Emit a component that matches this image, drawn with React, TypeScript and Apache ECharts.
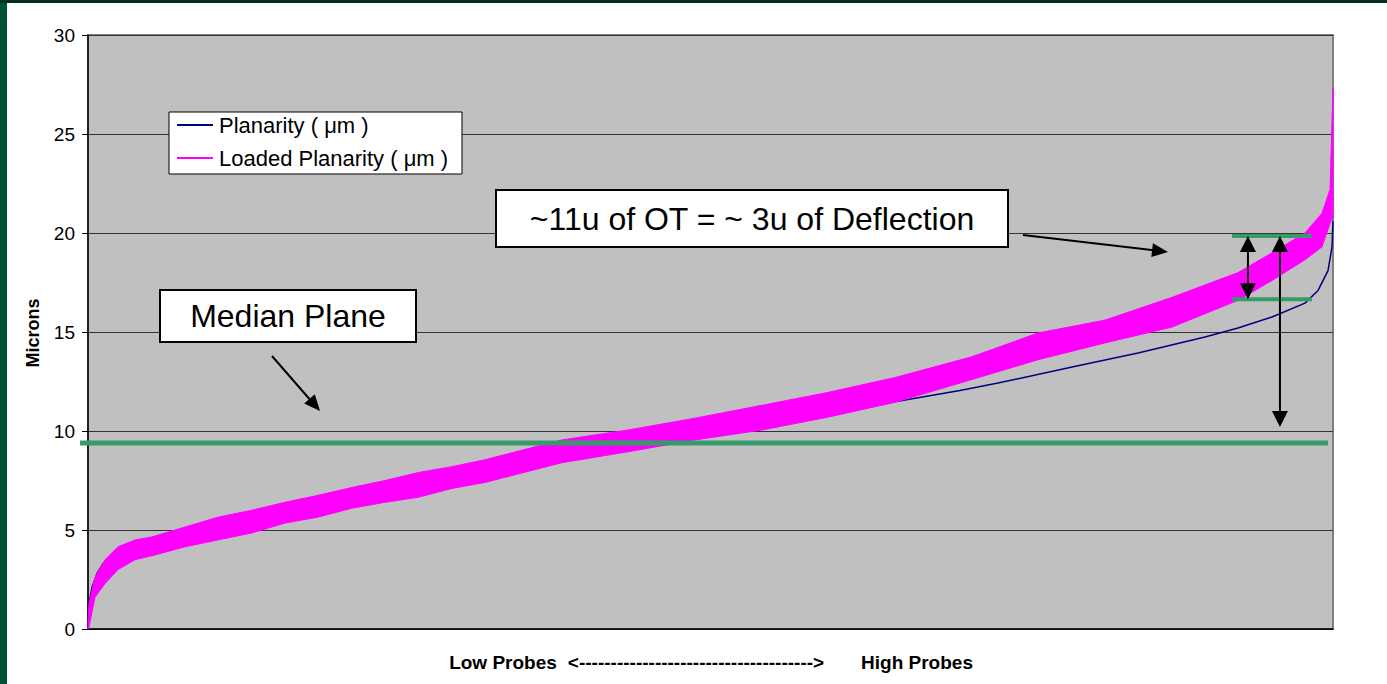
import React, { useEffect, useRef } from "react";
import * as echarts from "echarts";

// Probe position along the sorted probe list (% of probes, low -> high)
const planX = [0, 0.08, 0.32, 0.72, 1.2, 1.93, 2.97, 4.58, 6.43, 7.79, 10.44, 13.17, 15.82, 18.47, 21.2, 23.86, 26.5, 29.24, 31.89, 34.7, 37.27, 42.09, 46.91, 51.41, 56.39, 61.2, 65.62, 70.04, 73.09, 79.04, 84.34, 89.72, 92.37, 95.1, 97.75, 98.8, 99.6, 99.92, 100];
// Planarity (µm)
const planY = [0, 1.3, 2.1, 2.8, 3.3, 3.7, 4.15, 4.5, 4.85, 5.0, 5.45, 5.85, 6.25, 6.6, 6.95, 7.35, 7.7, 8.1, 8.45, 8.75, 9.0, 9.35, 9.7, 10.05, 10.55, 11.1, 11.57, 12.05, 12.42, 13.23, 13.94, 14.75, 15.2, 15.76, 16.46, 17.1, 18.1, 19.3, 20.6];

// Loaded planarity (µm): noisy band, read as lower / upper envelope
const loadX = [0, 0.08, 0.56, 1.37, 2.41, 3.78, 5.14, 7.79, 10.44, 13.17, 15.82, 18.47, 21.2, 23.86, 26.51, 29.24, 31.89, 38.07, 43.37, 48.76, 54.14, 59.44, 64.82, 71.0, 76.31, 81.69, 87.07, 92.37, 95.1, 97.75, 99.12, 99.76, 100];
const loadLow = [0, 0.1, 1.6, 2.3, 3.0, 3.5, 3.7, 4.15, 4.5, 4.85, 5.35, 5.65, 6.1, 6.4, 6.65, 7.1, 7.4, 8.4, 8.95, 9.55, 10.05, 10.7, 11.45, 12.6, 13.6, 14.45, 15.25, 16.6, 17.6, 18.65, 19.3, 20.5, 20.8];
const loadHigh = [0.4, 1.3, 2.6, 3.5, 4.15, 4.5, 4.65, 5.15, 5.65, 6.0, 6.4, 6.75, 7.15, 7.5, 7.9, 8.2, 8.55, 9.55, 10.05, 10.65, 11.3, 11.95, 12.7, 13.75, 14.95, 15.6, 16.75, 18.0, 19.0, 20.0, 21.0, 22.2, 27.3];

const yTicks = [0, 5, 10, 15, 20, 25, 30];

// Annotation levels (µm) and positions (% of probes)
const MEDIAN_LEVEL = 9.4;
const MEDIAN_FROM = -0.64;
const MEDIAN_TO = 99.6;
const OT_HIGH = 19.85;
const OT_LOW = 16.65;
const OT_FROM = 91.89;
const OT_TO = 98.31;
const SMALL_ARROW_X = 93.17;
const BIG_ARROW_X = 95.74;
const BIG_ARROW_BOTTOM = 10.2;

const SERIES_NAMES = ["Planarity ( μm )", "Loaded Planarity ( μm )"];
const FONT = "'Liberation Sans', Arial, Helvetica, sans-serif";
const OX = 7;
const OY = 3;

function head(tx: number, ty: number, fx: number, fy: number, len: number, hw: number) {
  const dx = tx - fx;
  const dy = ty - fy;
  const d = Math.hypot(dx, dy);
  const ux = dx / d;
  const uy = dy / d;
  const bx = tx - ux * len;
  const by = ty - uy * len;
  return {
    type: "polygon",
    z: 30,
    shape: { points: [[tx, ty], [bx - uy * hw, by + ux * hw], [bx + uy * hw, by - ux * hw]] },
    style: { fill: "#000" },
  };
}

function line(x1: number, y1: number, x2: number, y2: number, stroke: string, w: number) {
  return { type: "line", z: 25, shape: { x1, y1, x2, y2 }, style: { stroke, lineWidth: w } };
}

function text(x: number, y: number, t: string, size: number, weight: string, align: string) {
  return {
    type: "text",
    z: 40,
    x,
    y,
    style: { text: t, fontSize: size, fontFamily: FONT, fontWeight: weight, fill: "#000", align, verticalAlign: "middle" },
  };
}

export default function App() {
  const ref = useRef<HTMLDivElement>(null);

  useEffect(() => {
    const chart = echarts.init(ref.current!, null, { renderer: "svg" });
    const option: any = {
      animation: false,
      backgroundColor: "#ffffff",
      grid: {
        left: 81,
        right: 54,
        top: 32,
        bottom: 55,
        show: true,
        backgroundColor: "#c0c0c0",
        borderColor: "#808080",
        borderWidth: 2,
      },
      xAxis: {
        type: "value",
        min: 0,
        max: 100,
        axisLabel: { show: false },
        axisTick: { show: false },
        splitLine: { show: false },
        axisLine: { show: true, lineStyle: { color: "#000", width: 1.5 } },
      },
      yAxis: {
        type: "value",
        min: yTicks[0],
        max: yTicks[yTicks.length - 1],
        interval: 5,
        axisLabel: { fontSize: 19, color: "#000", margin: 13, fontFamily: FONT },
        axisTick: { show: true, length: 6, lineStyle: { color: "#000" } },
        axisLine: { show: true, lineStyle: { color: "#000", width: 1.5 } },
        splitLine: { show: true, lineStyle: { color: "#333", width: 1 } },
      },
      series: [
        {
          name: SERIES_NAMES[0],
          type: "line",
          data: planX.map((x, i) => [x, planY[i]]),
          showSymbol: false,
          symbol: "none",
          lineStyle: { color: "#000080", width: 1.5 },
          z: 2,
        },
        {
          name: SERIES_NAMES[1],
          type: "custom",
          data: loadX.map((x, i) => [x, loadLow[i], loadHigh[i]]),
          encode: { x: 0, y: [1, 2] },
          z: 3,
          renderItem: (params: any, api: any) => {
            if (params.dataIndex !== 0) return null;
            const pts: number[][] = [];
            for (let i = 0; i < loadX.length; i++) pts.push(api.coord([loadX[i], loadHigh[i]]));
            for (let i = loadX.length - 1; i >= 0; i--) pts.push(api.coord([loadX[i], loadLow[i]]));
            return {
              type: "polygon",
              shape: { points: pts },
              style: { fill: "#ff00ff", stroke: "#ff00ff", lineWidth: 1 },
            };
          },
        },
      ],
    };
    chart.setOption(option);

    const P = (x: number, y: number) => chart.convertToPixel({ gridIndex: 0 } as any, [x, y]) as number[];
    const A = (x: number, y: number) => [x - OX, y - OY];

    const g: any[] = [];
    const GREEN = "#379a69";
    // green reference lines
    const m1 = P(MEDIAN_FROM, MEDIAN_LEVEL);
    const m2 = P(MEDIAN_TO, MEDIAN_LEVEL);
    g.push(line(m1[0], m1[1], m2[0], m2[1], GREEN, 5));
    const h1 = P(OT_FROM, OT_HIGH);
    const h2 = P(OT_TO, OT_HIGH);
    g.push(line(h1[0], h1[1], h2[0], h2[1], GREEN, 4));
    const l1 = P(OT_FROM, OT_LOW);
    const l2 = P(OT_TO, OT_LOW);
    g.push(line(l1[0], l1[1], l2[0], l2[1], GREEN, 4));
    // double arrows
    const sa1 = P(SMALL_ARROW_X, OT_HIGH);
    const sa2 = P(SMALL_ARROW_X, OT_LOW);
    g.push(line(sa1[0], sa1[1] + 10, sa2[0], sa2[1] - 10, "#000", 2));
    g.push(head(sa1[0], sa1[1], sa2[0], sa2[1], 16, 8));
    g.push(head(sa2[0], sa2[1], sa1[0], sa1[1], 16, 8));
    const ba1 = P(BIG_ARROW_X, OT_HIGH);
    const ba2 = P(BIG_ARROW_X, BIG_ARROW_BOTTOM);
    g.push(line(ba1[0], ba1[1] + 10, ba2[0], ba2[1] - 10, "#000", 2));
    g.push(head(ba1[0], ba1[1], ba2[0], ba2[1], 16, 8));
    g.push(head(ba2[0], ba2[1], ba1[0], ba1[1], 16, 8));

    // callout boxes
    const b1 = A(496, 190);
    g.push({ type: "rect", z: 35, shape: { x: b1[0], y: b1[1], width: 512, height: 57 }, style: { fill: "#fff", stroke: "#000", lineWidth: 2 } });
    const t1 = A(752, 219);
    g.push(text(t1[0], t1[1], "~11u of OT = ~ 3u of Deflection", 32, "normal", "center"));
    const b2 = A(160, 290);
    g.push({ type: "rect", z: 35, shape: { x: b2[0], y: b2[1], width: 256, height: 52 }, style: { fill: "#fff", stroke: "#000", lineWidth: 2 } });
    const t2 = A(288, 316);
    g.push(text(t2[0], t2[1], "Median Plane", 32, "normal", "center"));

    // callout arrows
    const c1 = A(1023, 235);
    const c2 = A(1168, 252);
    g.push(line(c1[0], c1[1], c2[0] - 12, c2[1] - 1.4, "#000", 2));
    g.push(head(c2[0], c2[1], c1[0], c1[1], 16, 7));
    const d1 = A(272, 356);
    const d2 = A(320, 411);
    g.push(line(d1[0], d1[1], d2[0] - 8, d2[1] - 9, "#000", 2));
    g.push(head(d2[0], d2[1], d1[0], d1[1], 16, 7));

    // legend
    const lg = A(169, 112);
    g.push({ type: "rect", z: 35, shape: { x: lg[0], y: lg[1], width: 293, height: 62 }, style: { fill: "#fff", stroke: "#000", lineWidth: 1 } });
    const r1 = A(177, 125);
    const r2 = A(177, 158);
    g.push({ ...line(r1[0], r1[1], r1[0] + 36, r1[1], "#000080", 2), z: 40 });
    g.push({ ...line(r2[0], r2[1], r2[0] + 36, r2[1], "#ff00ff", 2), z: 40 });
    g.push(text(r1[0] + 42, r1[1], SERIES_NAMES[0], 22, "normal", "left"));
    g.push(text(r2[0] + 42, r2[1], SERIES_NAMES[1], 22, "normal", "left"));

    // axis titles
    const yt = A(33, 333);
    g.push({ ...text(yt[0], yt[1], "Microns", 18, "bold", "center"), rotation: Math.PI / 2 });
    const x1 = A(503, 662);
    const x2 = A(696, 662);
    const x3 = A(917, 662);
    g.push(text(x1[0], x1[1], "Low Probes", 19, "bold", "center"));
    g.push(text(x2[0], x2[1], "<" + "-".repeat(37) + ">", 19, "bold", "center"));
    g.push(text(x3[0], x3[1], "High Probes", 19, "bold", "center"));

    chart.setOption({ graphic: g });
    return () => chart.dispose();
  }, []);

  return (
    <div style={{ position: "fixed", left: 0, top: 0, width: 1387, height: 684, background: "#01503a" }}>
      <div style={{ position: "absolute", left: 0, top: 0, width: 1387, height: 3, background: "#00301f" }} />
      <div ref={ref} style={{ position: "absolute", left: OX, top: OY, width: 1380, height: 681, background: "#fff" }} />
    </div>
  );
}
